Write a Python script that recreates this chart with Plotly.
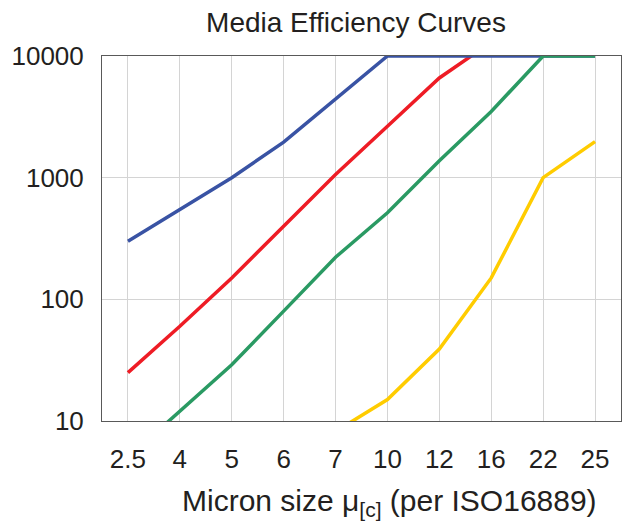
import plotly.graph_objects as go

categories = ["2.5", "4", "5", "6", "7", "10", "12", "16", "22", "25"]
blue_vals = [300, 550, 1000, 1960, 4400, 10000, 10000, 10000, 10000, 10000]
red_vals = [25, 60, 150, 400, 1060, 2650, 6600, 13000, 10000, None]
green_vals = [5, 12, 29, 80, 222, 515, 1380, 3500, 10000, 10000]
yellow_vals = [None, None, None, None, 8.2, 15, 39, 150, 1000, 1980]

y_tickvals = [10, 100, 1000, 10000]
y_ticktext = ["10", "100", "1000", "10000"]

FONT = "Liberation Sans, Arial, sans-serif"
TXT = "#231f20"

fig = go.Figure()
series = [
    ("Red", red_vals, "#ee1c25"),
    ("Blue", blue_vals, "#3953a4"),
    ("Green", green_vals, "#2a9a63"),
    ("Yellow", yellow_vals, "#ffcc00"),
]
for name, vals, col in series:
    fig.add_trace(go.Scatter(x=categories, y=vals, mode="lines", name=name,
                             line=dict(color=col, width=3.5), connectgaps=False,
                             showlegend=False))

fig.update_layout(
    width=623, height=525,
    margin=dict(l=102, r=2, t=56, b=104),
    paper_bgcolor="white", plot_bgcolor="white",
    font=dict(family=FONT, color=TXT, size=26),
    title=dict(text="Media Efficiency Curves", x=356 / 623, xanchor="center",
               y=1 - 22 / 525, yanchor="middle",
               font=dict(family=FONT, size=28, color=TXT)),
)
fig.update_xaxes(type="category", range=[-0.5, 9.5], showgrid=True, automargin=False,
                 gridcolor="#d4d4d4", gridwidth=1, showline=True, linecolor="#595959",
                 linewidth=1, mirror=True, ticks="", ticklabelstandoff=15,
                 tickfont=dict(size=26, family=FONT, color=TXT), layer="below traces")
fig.update_yaxes(type="log", range=[1, 4], tickvals=y_tickvals, ticktext=y_ticktext,
                 showgrid=True, gridcolor="#d4d4d4", gridwidth=1, showline=True,
                 linecolor="#595959", linewidth=1, mirror=True, ticks="", automargin=False,
                 ticklabelstandoff=12, zeroline=False,
                 tickfont=dict(size=26, family=FONT, color=TXT), layer="below traces")

fig.add_annotation(text="Micron size μ<sub>[c]</sub> (per ISO16889)",
                   xref="paper", yref="paper", x=(390 - 102) / 519, y=(421 - 502) / 365,
                   xanchor="center", yanchor="middle", showarrow=False,
                   font=dict(family=FONT, size=30, color=TXT))

fig.write_html("out.html", config={"displayModeBar": False},
               post_script="document.body.style.margin='0';")
